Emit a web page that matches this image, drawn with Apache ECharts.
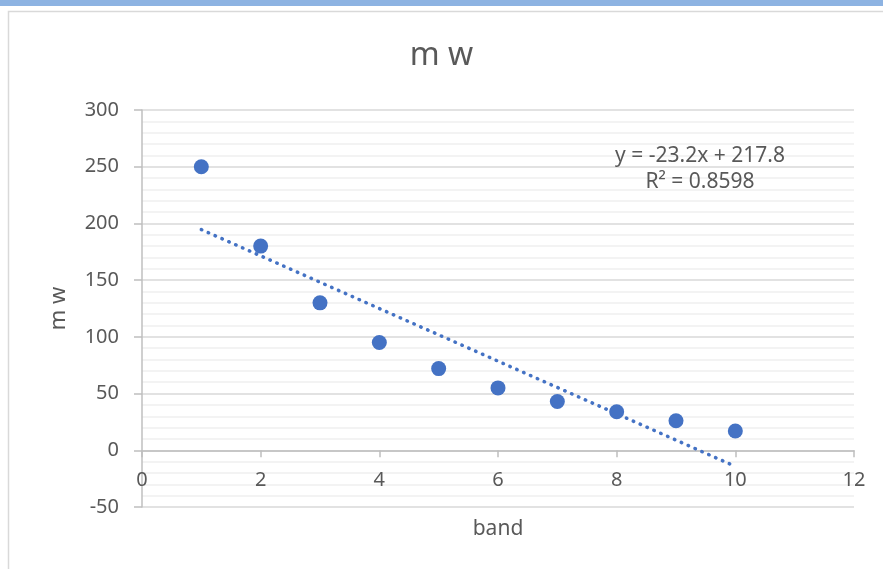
<!DOCTYPE html>
<html>
<head>
<meta charset="utf-8">
<script src="https://cdn.jsdelivr.net/npm/echarts@6/dist/echarts.min.js"></script>
<style>
  html, body { margin: 0; padding: 0; background: #fff; }
  #main { width: 883px; height: 569px; }
</style>
</head>
<body>
<div id="main"></div>
<script>
// data
const bands = [1, 2, 3, 4, 5, 6, 7, 8, 9, 10]
const mw = [250, 180, 130, 95, 72, 55, 43, 34, 26, 17]
const yTicks = [-50, 0, 50, 100, 150, 200, 250, 300]
const xTicks = [0, 2, 4, 6, 8, 10, 12]

// linear least squares trendline, like Excel does
const n = bands.length
const mx = bands.reduce((a, b) => a + b, 0) / n
const my = mw.reduce((a, b) => a + b, 0) / n
let sxy = 0, sxx = 0, syy = 0
for (let i = 0; i < n; i++) {
  sxy += (bands[i] - mx) * (mw[i] - my)
  sxx += (bands[i] - mx) * (bands[i] - mx)
  syy += (mw[i] - my) * (mw[i] - my)
}
const slope = sxy / sxx
const icpt = my - slope * mx
const r2 = (sxy * sxy) / (sxx * syy)
const x0 = bands[0], x1 = bands[n - 1]
const trend = [[x0, slope * x0 + icpt], [x1, slope * x1 + icpt]]

const font = 'Noto Sans'
const grey = '#595959'

let myChart = echarts.init(document.getElementById('main'))
myChart.setOption({
  animation: false,
  textStyle: { fontFamily: font },
  title: {
    text: 'm w',
    left: 'center',
    top: 35,
    textStyle: { fontFamily: font, fontSize: 32, fontWeight: 'normal', color: grey }
  },
  grid: { left: 142, right: 29, top: 110, bottom: 62, containLabel: false, outerBoundsMode: 'none' },
  xAxis: {
    type: 'value',
    min: xTicks[0],
    max: xTicks[xTicks.length - 1],
    interval: 2,
    name: 'band',
    nameLocation: 'middle',
    nameGap: 12,
    nameTextStyle: { fontSize: 21, color: grey },
    axisLine: { onZero: true, lineStyle: { color: '#bfbfbf', width: 1.5 } },
    axisTick: { show: true, length: 7, lineStyle: { color: '#bfbfbf', width: 1.5 } },
    axisLabel: { fontSize: 20, color: grey, margin: -37 },
    splitLine: { show: false }
  },
  yAxis: {
    type: 'value',
    min: yTicks[0],
    max: yTicks[yTicks.length - 1],
    interval: 50,
    name: 'm w',
    nameLocation: 'middle',
    nameGap: 72,
    nameTextStyle: { fontSize: 22, color: grey },
    axisLine: { show: true, lineStyle: { color: '#bfbfbf', width: 1.5 } },
    axisTick: { show: true, length: 8, lineStyle: { color: '#bfbfbf', width: 1.5 } },
    axisLabel: { fontSize: 20, color: grey, margin: 23 },
    splitLine: { show: true, lineStyle: { color: '#d9d9d9', width: 1.5 } },
    minorTick: { show: false, splitNumber: 5 },
    minorSplitLine: { show: true, lineStyle: { color: '#f0f0f0', width: 1.5 } }
  },
  graphic: [
    { type: 'rect', shape: { x: 0, y: 0, width: 883, height: 6 }, style: { fill: '#8db3e2' }, z: 100 },
    { type: 'rect', shape: { x: 8.5, y: 11.5, width: 900, height: 600 }, style: { fill: null, stroke: '#d9d9d9', lineWidth: 1.5 }, silent: true, z: -1 },
    {
      type: 'text', x: 700, y: 143, z: 100,
      style: {
        text: 'y = ' + slope.toFixed(1) + 'x + ' + icpt.toFixed(1) + '\nR² = ' + r2.toFixed(4),
        font: '21px "Noto Sans"', fill: grey, lineHeight: 26, align: 'center'
      }
    }
  ],
  series: [
    {
      name: 'trend',
      type: 'line',
      data: trend,
      showSymbol: false,
      lineStyle: { color: '#4472c4', width: 3.5, type: [0.5, 7], cap: 'round' },
      z: 2
    },
    {
      name: 'mw',
      type: 'scatter',
      data: bands.map((b, i) => [b, mw[i]]),
      symbolSize: 15,
      itemStyle: { color: '#4472c4', opacity: 1 },
      z: 3
    }
  ]
})
window.onresize = function() {
  myChart.resize()
}
</script>
</body>
</html>
